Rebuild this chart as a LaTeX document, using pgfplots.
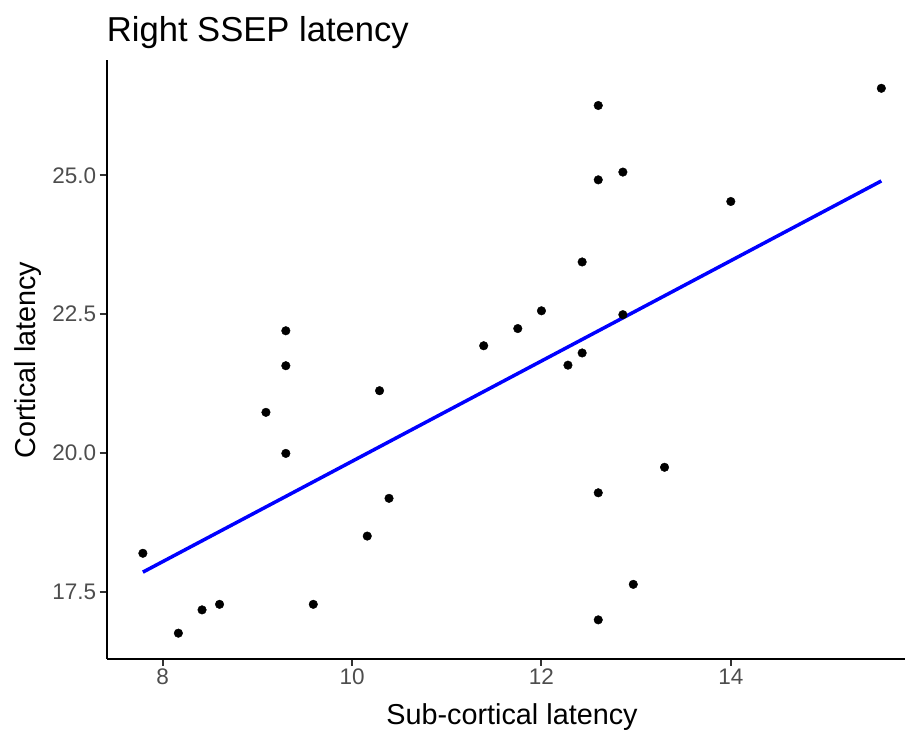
\documentclass[border=0pt]{standalone}
\usepackage{fontspec}
\setmainfont{Liberation Sans}
\usepackage{pgfplots}
\pgfplotsset{compat=1.18}
\definecolor{tickgray}{HTML}{4D4D4D}
\definecolor{tickmark}{HTML}{333333}
\begin{document}
\begin{tikzpicture}
\useasboundingbox (0,0) rectangle (905bp,733bp);
\begin{axis}[
  at={(106.7bp,74.3bp)}, anchor=south west,
  scale only axis, width=798.3bp, height=598.7bp,
  xmin=7.408, xmax=15.84, ymin=16.29, ymax=27.08,
  axis x line=bottom, axis y line=left,
  axis line style={-, black, line width=2bp},
  xtick={8,10,12,14}, ytick={17.5,20,22.5,25},
  tick align=outside, major tick length=7bp,
  tick style={line width=2bp, tickmark},
  ticklabel style={font=\fontsize{22.5bp}{26bp}\selectfont, text=tickgray},
  /pgf/number format/assume math mode=true,
  yticklabel style={/pgf/number format/.cd, fixed, fixed zerofill, precision=1},
  xticklabel style={/pgf/number format/fixed},
  clip=false,
]
\addplot[only marks, mark=*, mark size=4.3bp, black] coordinates {
(7.79,18.19) (8.165,16.75) (8.415,17.17) (8.60,17.27) (9.09,20.73)
(9.30,22.20) (9.30,21.57) (9.30,19.99) (9.59,17.27) (10.16,18.50)
(10.29,21.12) (10.39,19.18) (11.39,21.93) (11.75,22.24) (12.00,22.56)
(12.28,21.58) (12.43,21.80) (12.43,23.44) (12.60,26.26) (12.60,24.92)
(12.60,19.28) (12.60,16.99) (12.86,25.06) (12.86,22.49) (12.97,17.63)
(13.30,19.74) (14.00,24.53) (15.59,26.57)
};
\addplot[blue, line width=3.5bp] coordinates {(7.79,17.85) (15.59,24.90)};
\end{axis}
\node[anchor=base west, inner sep=0pt, font=\fontsize{34.6bp}{40bp}\selectfont] at (106.7bp,691.3bp) {Right SSEP latency};
\node[anchor=base, inner sep=0pt, font=\fontsize{28.8bp}{33bp}\selectfont] at (512bp,9bp) {Sub-cortical latency};
\node[anchor=base, rotate=90, inner sep=0pt, font=\fontsize{28.8bp}{33bp}\selectfont] at (35.6bp,373bp) {Cortical latency};
\end{tikzpicture}
\end{document}
